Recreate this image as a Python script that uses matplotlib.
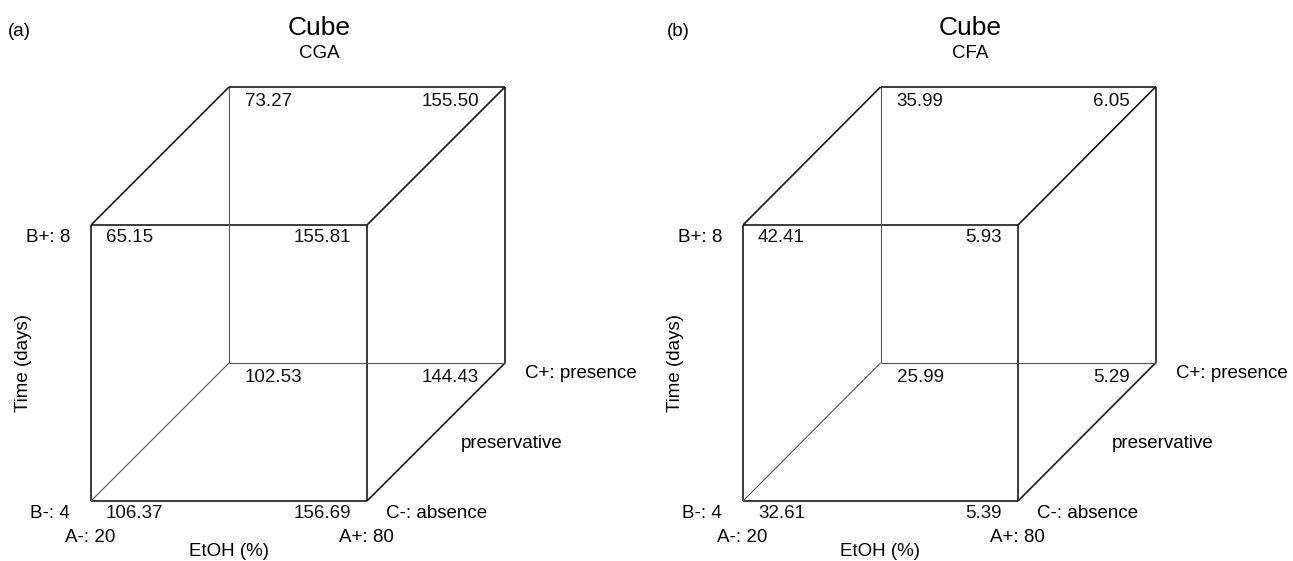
import matplotlib
matplotlib.use('Agg')
import matplotlib.pyplot as plt
import itertools

plt.rcParams['font.family'] = ['Liberation Sans', 'DejaVu Sans']

# ---------------- data ----------------
panel_tags = ['(a)', '(b)']
responses = ['CGA', 'CFA']
plot_title = 'Cube'
factor_A_labels = ['A-: 20', 'A+: 80']
factor_B_labels = ['B-: 4', 'B+: 8']
factor_C_labels = ['C-: absence', 'C+: presence']
axis_A_name = 'EtOH (%)'
axis_B_name = 'Time (days)'
axis_C_name = 'preservative'
# corner order (A,B,C): (-,-,-),(+,-,-),(-,+,-),(+,+,-),(-,-,+),(+,-,+),(-,+,+),(+,+,+)
cga_values = [106.37, 156.69, 65.15, 155.81, 102.53, 144.43, 73.27, 155.50]
cfa_values = [32.61, 5.39, 42.41, 5.93, 25.99, 5.29, 35.99, 6.05]
panel_values = [cga_values, cfa_values]

# ---------------- layout ----------------
W, H = 1293, 561
fig = plt.figure(figsize=(W / 100, H / 100), dpi=100)

# (axes left px, axes width px, cube front-left px, cube front width px, tag left px)
layouts = [(0, 640, 91, 276, 8), (640, 653, 743, 275, 667)]
front_bottom_px, front_h_px = 501, 276
depth = 0.5
FS = 13.5

def proj(a, b, c):
    return a + depth * c, b + depth * c

corners = [(a, b, c) for c in (0, 1) for b in (0, 1) for a in (0, 1)]

for k, (ax_l, ax_w, cube_l, cube_w, tag_px) in enumerate(layouts):
    ax = fig.add_axes([ax_l / W, 0, ax_w / W, 1])
    ax.set_xlim(-(cube_l - ax_l) / cube_w, (ax_l + ax_w - cube_l) / cube_w)
    ax.set_ylim((front_bottom_px - H) / front_h_px, front_bottom_px / front_h_px)
    ax.axis('off')

    hidden = (0, 0, 1)
    for p, q in itertools.combinations(corners, 2):
        if sum(abs(i - j) for i, j in zip(p, q)) != 1:
            continue
        x0, y0 = proj(*p)
        x1, y1 = proj(*q)
        if hidden in (p, q):
            ax.plot([x0, x1], [y0, y1], color='#555555', lw=0.8, solid_capstyle='butt')
        else:
            ax.plot([x0, x1], [y0, y1], color='#1a1a1a', lw=1.2, solid_capstyle='butt')

    vals = panel_values[k]
    for (a, b, c), v in zip(corners, vals):
        x, y = proj(a, b, c)
        if a == 0:
            off, ha = (15 if c == 0 else 16), 'left'
        else:
            off, ha = (-16 if c == 0 else -26), 'right'
        ax.annotate(f'{v:.2f}', (x, y), xytext=(off, -12.5 if c == 0 else -14.5),
                    textcoords='offset pixels', ha=ha, va='center', fontsize=FS,
                    color='#111111')

    # B labels
    for b, lab in zip((0, 1), factor_B_labels):
        ax.annotate(lab, proj(0, b, 0), xytext=(-21, -12.5), textcoords='offset pixels',
                    ha='right', va='center', fontsize=FS)
    # A labels
    for a, lab in zip((0, 1), factor_A_labels):
        ax.annotate(lab, proj(a, 0, 0), xytext=(-1, -37), textcoords='offset pixels',
                    ha='center', va='center', fontsize=FS)
    ax.annotate(axis_A_name, proj(0.5, 0, 0), xytext=(0, -51), textcoords='offset pixels',
                ha='center', va='center', fontsize=FS)
    # C labels
    for c, lab in zip((0, 1), factor_C_labels):
        ax.annotate(lab, proj(1, 0, c), xytext=(19 if c == 0 else 20, -12 if c == 0 else -10),
                    textcoords='offset pixels', ha='left', va='center', fontsize=FS)
    ax.annotate(axis_C_name, proj(1, 0, 0.5), xytext=(25, -11.5), textcoords='offset pixels',
                ha='left', va='center', fontsize=FS)
    # B axis name
    ax.annotate(axis_B_name, proj(0, 0.5, 0), xytext=(-67, 0), textcoords='offset pixels',
                ha='center', va='center', rotation=90, fontsize=FS)
    # titles
    ax.text(0.826, (front_bottom_px - 28) / front_h_px, plot_title, ha='center',
            va='center', fontsize=19)
    ax.text(0.826, (front_bottom_px - 53) / front_h_px, responses[k], ha='center',
            va='center', fontsize=FS)
    ax.text((tag_px - ax_l) / ax_w, 1 - 31 / H, panel_tags[k], transform=ax.transAxes,
            fontsize=FS, ha='left', va='center')

fig.savefig('out.png', dpi=100, facecolor='white')
